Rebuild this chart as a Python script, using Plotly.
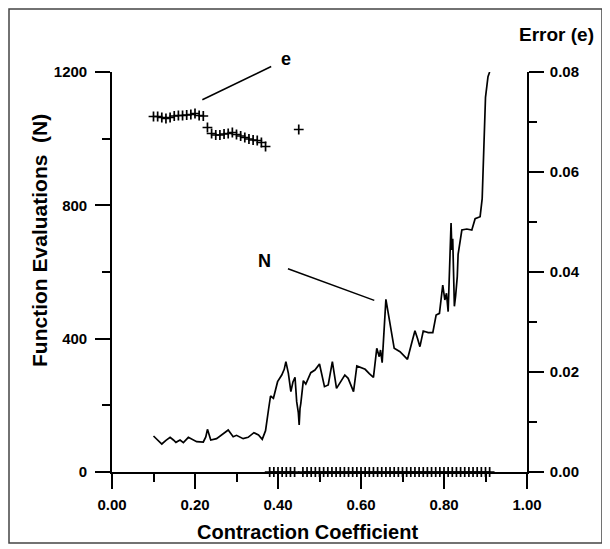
import plotly.graph_objects as go

# Function evaluations N vs contraction coefficient
n_x = [0.100, 0.110, 0.120, 0.130, 0.140, 0.148, 0.154, 0.164, 0.172, 0.184,
       0.194, 0.204, 0.220, 0.226, 0.230, 0.234, 0.238, 0.252, 0.266, 0.280,
       0.292, 0.300, 0.316, 0.328, 0.342, 0.353, 0.362, 0.370, 0.377, 0.382,
       0.389, 0.395, 0.399, 0.409, 0.415, 0.419, 0.425, 0.431, 0.436, 0.441,
       0.445, 0.449, 0.451, 0.453, 0.455, 0.461, 0.467, 0.479, 0.489, 0.500,
       0.506, 0.512, 0.521, 0.531, 0.541, 0.551, 0.561, 0.569, 0.575, 0.582,
       0.590, 0.600, 0.610, 0.620, 0.630, 0.638, 0.644, 0.647, 0.651, 0.660,
       0.666, 0.672, 0.680, 0.694, 0.712, 0.722, 0.730, 0.736, 0.742, 0.750,
       0.762, 0.773, 0.781, 0.789, 0.797, 0.802, 0.806, 0.810, 0.814, 0.817,
       0.819, 0.821, 0.823, 0.825, 0.828, 0.832, 0.834, 0.839, 0.843, 0.855,
       0.867, 0.875, 0.887, 0.892, 0.895, 0.900, 0.906, 0.910]
n_val = [108, 95, 84, 95, 104, 96, 89, 96, 88, 104,
         97, 91, 90, 105, 128, 110, 96, 100, 112, 126,
         106, 110, 100, 104, 118, 111, 98, 124, 186, 228,
         221, 251, 271, 291, 308, 331, 296, 241, 270, 284,
         211, 178, 141, 190, 206, 274, 264, 298, 306, 324,
         290, 256, 261, 331, 251, 270, 291, 281, 265, 241,
         318, 312, 308, 295, 284, 371, 346, 366, 328, 518,
         476, 431, 371, 361, 338, 386, 424, 401, 376, 423,
         418, 418, 471, 476, 561, 516, 536, 481, 616, 747,
         666, 700, 600, 497, 528, 586, 653, 690, 726, 729,
         726, 760, 766, 820, 925, 1124, 1186, 1200]

# Error e vs contraction coefficient
e_x = [round(0.10 + 0.01 * i, 2) for i in range(82)]
e_val = [0.0711, 0.0711, 0.0709, 0.0707, 0.0709, 0.0712, 0.0713, 0.0713, 0.0714,
         0.0715, 0.0717, 0.0713, 0.0712, 0.0689,
         0.0677, 0.0674, 0.0674, 0.0676, 0.0677, 0.0679, 0.0675, 0.0672, 0.0669,
         0.0666, 0.0664, 0.0663, 0.0659, 0.0651,
         0, 0, 0, 0, 0, 0, 0,
         0.0685] + [0] * 46

x_ticks = [0.0, 0.2, 0.4, 0.6, 0.8, 1.0]
y_ticks = [0, 400, 800, 1200]
y2_ticks = [0.00, 0.02, 0.04, 0.06, 0.08]

FONT = "Liberation Sans, Arial, sans-serif"

fig = go.Figure()
fig.add_trace(go.Scatter(x=n_x, y=n_val, mode="lines",
                         line=dict(color="black", width=1.7), yaxis="y"))
fig.add_trace(go.Scatter(x=e_x, y=e_val, mode="markers", yaxis="y2",
                         cliponaxis=False,
                         marker=dict(symbol="cross-thin", size=7,
                                     line=dict(color="black", width=1.7))))

tickfont = dict(family=FONT, size=15, color="black", weight="bold")
common = dict(showgrid=False, zeroline=False, showline=True, linecolor="black",
              linewidth=1.6, ticks="outside", ticklen=15, tickwidth=1.6,
              tickcolor="black", tickfont=tickfont, automargin=False)

# page body adds an 8px offset; figure sized so plot area lands at 112..527 x 72..472
fig.update_layout(
    width=602, height=541,
    margin=dict(l=104, r=83, t=64, b=77, autoexpand=False),
    paper_bgcolor="white", plot_bgcolor="white",
    showlegend=False, hovermode=False,
    xaxis=dict(range=[0, 1], tickvals=x_ticks, tickformat=".2f",
               ticklabelstandoff=3,
               minor=dict(dtick=0.1, ticklen=8, tickwidth=1.6, ticks="outside",
                          tickcolor="black", tick0=0),
               **common),
    yaxis=dict(range=[0, 1200], tickvals=y_ticks, ticklabelstandoff=5,
               minor=dict(dtick=200, ticklen=8, tickwidth=1.6, ticks="outside",
                          tickcolor="black", tick0=0),
               **common),
    yaxis2=dict(range=[0, 0.08], tickvals=y2_ticks, tickformat=".2f",
                overlaying="y", side="right", anchor="x", ticklabelstandoff=3,
                minor=dict(dtick=0.01, ticklen=8, tickwidth=1.6, ticks="outside",
                           tickcolor="black", tick0=0),
                **common),
)

bold = dict(family=FONT, color="black", weight="bold")
anc = dict(xref="paper", yref="paper", xanchor="center", yanchor="middle",
           showarrow=False)
fig.add_annotation(text="Contraction Coefficient", x=0.47, y=-0.15,
                   font=dict(size=20, **bold), **anc)
fig.add_annotation(text="Function Evaluations  (N)", x=-0.176, y=0.58,
                   textangle=-90, font=dict(size=21, **bold), **anc)
fig.add_annotation(text="Error (e)", x=1.07, y=1.0925,
                   font=dict(size=19, **bold), **anc)
fig.add_annotation(text="e", x=0.419, y=1.0325,
                   font=dict(size=18, **bold), **anc)
fig.add_annotation(text="N", x=0.368, y=0.528,
                   font=dict(size=18, **bold), **anc)

# leader lines
fig.add_shape(type="line", xref="paper", yref="paper",
              x0=0.2177, y0=0.9305, x1=0.3836, y1=1.0138,
              line=dict(color="black", width=1.5))
fig.add_shape(type="line", xref="paper", yref="paper",
              x0=0.424, y0=0.508, x1=0.632, y1=0.429,
              line=dict(color="black", width=1.5))
# outer frame
fig.add_shape(type="rect", xref="paper", yref="paper",
              x0=(9 - 112) / 415, x1=(602 - 112) / 415,
              y0=(472 - 543) / 400, y1=(472 - 9) / 400,
              line=dict(color="#444", width=1.5))

fig.write_html("out.html")
